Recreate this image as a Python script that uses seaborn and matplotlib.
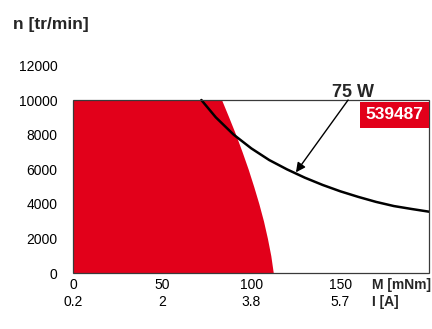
import matplotlib
matplotlib.use("Agg")
import matplotlib.pyplot as plt
from matplotlib.patches import Rectangle
import seaborn as sns
import pandas as pd

# --- data ---
torque_ticks = [0, 50, 100, 150]
current_labels = ["0.2", "2", "3.8", "5.7"]
speed_ticks = [0, 2000, 4000, 6000, 8000, 10000, 12000]

# limit of the red (continuous operation) area: torque M [mNm] vs speed n
limit_n = [10000, 9000, 8000, 7000, 6000, 5000, 4000, 3000, 2000, 1000, 0]
limit_M = [83.3, 87.3, 91.2, 94.8, 98.2, 101.3, 104.2, 106.8, 109.0, 110.9, 112.3]

# 75 W power curve
power_M = [71.9, 80, 90, 100, 110, 120, 130, 140, 150, 160, 170, 180, 190, 200]
power_n = [10000, 9000, 8000, 7200, 6530, 5990, 5510, 5090, 4720, 4400, 4110,
           3870, 3700, 3540]

power_label = "75 W"
part_number = "539487"

RED = "#e2001a"

sns.set_theme(style="white")
plt.rcParams["font.family"] = ["Liberation Sans", "DejaVu Sans"]

fig = plt.figure(figsize=(4.32, 3.29), dpi=100)
ax = fig.add_axes([0.1697, 0.1702, 0.9942 - 0.1697, 0.8012 - 0.1702])

# red area
ax.fill_betweenx(limit_n, 0, limit_M, color=RED, linewidth=0, zorder=1)

# power curve
df = pd.DataFrame({"M": power_M, "n": power_n})
sns.lineplot(data=df, x="M", y="n", sort=False, estimator=None, color="black",
             linewidth=1.8, ax=ax, zorder=3)

# frame only up to 10000
ax.add_patch(Rectangle((0, 0), 200, 10000, fill=False, edgecolor="#3a3a3a",
                       linewidth=0.9, zorder=4, clip_on=False))

ax.set_xlim(0, 200)
ax.set_ylim(0, 12000)
for s in ax.spines.values():
    s.set_visible(False)

ax.set_xticks(torque_ticks)
ax.set_xticklabels([f"{t}\n{c}" for t, c in zip(torque_ticks, current_labels)],
                   fontsize=10, linespacing=1.25)
ax.set_yticks(speed_ticks)
ax.set_yticklabels([str(v) for v in speed_ticks], fontsize=10)
ax.tick_params(axis="x", length=0, pad=3.5, colors="black")
ax.tick_params(axis="y", length=0, pad=11.5, colors="black")
ax.set_xlabel("")
ax.set_ylabel("")

# axis unit labels
ax.text(167.8, -280, "M [mNm]\nI [A]", fontsize=10, fontweight="bold",
        ha="left", va="top", linespacing=1.25, clip_on=False)
fig.text(12.7 / 432, 1 - 29.3 / 329, "n [tr/min]", fontsize=12.5,
         fontweight="bold", ha="left", va="baseline")

# 75 W label and arrow
ax.text(157, 10156, power_label, fontsize=13, fontweight="bold",
        ha="center", va="baseline", zorder=5)
ax.annotate("", xy=(125, 5820), xytext=(154.3, 10000),
            arrowprops=dict(arrowstyle="-|>", color="black", lw=1.0,
                            mutation_scale=14, shrinkA=0, shrinkB=0),
            zorder=5)

# part number box
ax.add_patch(Rectangle((160.9, 8364), 200 - 160.9, 9900 - 8364, facecolor=RED,
                       edgecolor="none", zorder=5))
ax.text(180.3, 9170, part_number, fontsize=12.5, fontweight="bold",
        color="white", ha="center", va="center", zorder=6)

fig.savefig("out.png", dpi=100)
